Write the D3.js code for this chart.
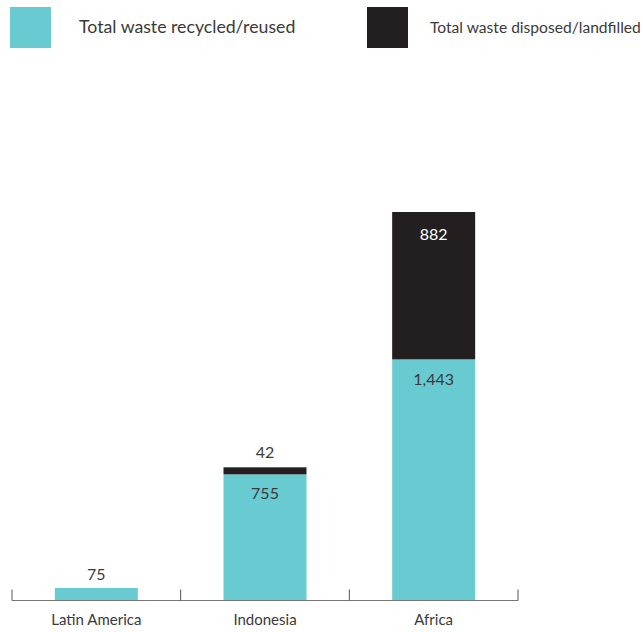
<!DOCTYPE html>
<html><head><meta charset="utf-8">
<script src="https://cdn.jsdelivr.net/npm/d3@7"></script>
<style>body{margin:0;background:#fff}svg{display:block}text{font-family:Lato,"Noto Sans",sans-serif;font-weight:400}</style>
</head><body>
<svg id="c" width="643" height="632"></svg>
<script>
const categories = ["Latin America", "Indonesia", "Africa"];
const recycled = [75, 755, 1443];
const disposed = [0, 42, 882];
const seriesNames = ["Total waste recycled/reused", "Total waste disposed/landfilled"];
const colors = ["#68cbd1", "#231f20"];

const svg = d3.select("#c");
const x = d3.scaleBand().domain(categories).range([12, 518]).paddingInner(0).paddingOuter(0);
const y = d3.scaleLinear().domain([0, 2325]).range([600.5, 212]);
const bw = 83;
const fmt = d3.format(",");

const data = categories.map((c, i) => ({cat: c, recycled: recycled[i], disposed: disposed[i]}));
const stack = d3.stack().keys(["recycled", "disposed"])(data);

stack.forEach((layer, li) => {
  svg.append("g").selectAll("rect").data(layer).join("rect")
    .attr("x", d => x(d.data.cat) + x.bandwidth()/2 - bw/2)
    .attr("width", bw)
    .attr("y", d => y(d[1]))
    .attr("height", d => y(d[0]) - y(d[1]))
    .attr("fill", colors[li]);
});

// axis
const ax = svg.append("g").attr("transform", "translate(0,600.5)");
ax.append("line").attr("x1", 12).attr("x2", 518).attr("stroke", "#777").attr("stroke-width", 1.2);
const tickPos = categories.map(c => x(c)).concat([x(categories[categories.length-1]) + x.bandwidth()]);
ax.selectAll("line.t").data(tickPos).join("line").attr("class","t")
  .attr("x1", d => d).attr("x2", d => d).attr("y1", -11).attr("y2", 0)
  .attr("stroke", "#555").attr("stroke-width", 1);
svg.selectAll("text.cat").data(categories).join("text").attr("class","cat")
  .attr("x", d => x(d) + x.bandwidth()/2).attr("y", 625)
  .attr("text-anchor", "middle").attr("font-size", 15).attr("fill", "#3a3a3a").text(d => d);

// value labels
data.forEach((d, i) => {
  const cx = x(d.cat) + x.bandwidth()/2;
  if (d.disposed === 0) {
    svg.append("text").attr("x", cx).attr("y", y(d.recycled) - 8)
      .attr("text-anchor","middle").attr("font-size",16).attr("fill","#3a3a3a").text(fmt(d.recycled));
  } else if (y(d.recycled) - y(d.recycled + d.disposed) < 30) {
    svg.append("text").attr("x", cx).attr("y", y(d.recycled + d.disposed) - 9)
      .attr("text-anchor","middle").attr("font-size",16).attr("fill","#3a3a3a").text(fmt(d.disposed));
    svg.append("text").attr("x", cx).attr("y", y(d.recycled) + 25)
      .attr("text-anchor","middle").attr("font-size",16).attr("fill","#3a3a3a").text(fmt(d.recycled));
  } else {
    svg.append("text").attr("x", cx).attr("y", y(d.recycled + d.disposed) + 28)
      .attr("text-anchor","middle").attr("font-size",16).attr("fill","#fff").text(fmt(d.disposed));
    svg.append("text").attr("x", cx).attr("y", y(d.recycled) + 26)
      .attr("text-anchor","middle").attr("font-size",16).attr("fill","#3a3a3a").text(fmt(d.recycled));
  }
});

// legend
const leg = [{x: 10, tx: 79, fs: 17.7}, {x: 367, tx: 430, fs: 15.6}];
seriesNames.forEach((n, i) => {
  svg.append("rect").attr("x", leg[i].x).attr("y", 7).attr("width", 41).attr("height", 41).attr("fill", colors[i]);
  svg.append("text").attr("x", leg[i].tx).attr("y", 33).attr("font-size", leg[i].fs).attr("fill", "#3a3a3a").text(n);
});
</script>
</body></html>
